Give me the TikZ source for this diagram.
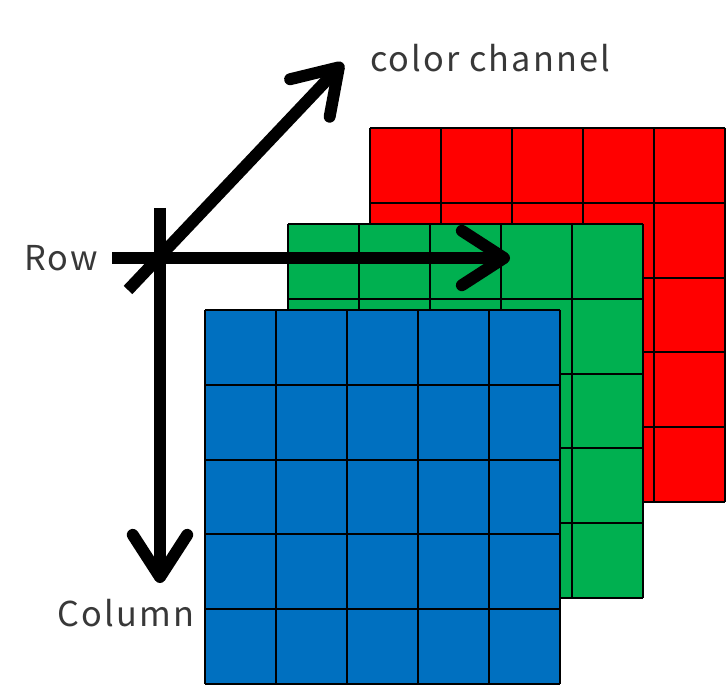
\documentclass[tikz,border=0pt]{standalone}
\usepackage{fontspec}
\setmainfont{Noto Sans CJK JP}
\usetikzlibrary{arrows.meta}
\definecolor{chred}{HTML}{FF0000}
\definecolor{chgreen}{HTML}{00B050}
\definecolor{chblue}{HTML}{0070C0}

\begin{document}
\begin{tikzpicture}[
			x=0.02cm,y=-0.02cm,
			cell/.style={draw=black,line width=1.2pt},
			axis/.style={-{Straight Barb[length=24pt,width=31pt,round]},draw=black,line width=6.8pt},
			lbl/.style={text=black!78,font=\addfontfeature{LetterSpace=6}\fontsize{19.5}{22}\selectfont,inner sep=0pt}]
			\useasboundingbox (0,0) rectangle (728,686);
			% channel layers, back to front
			\foreach \col/\gx/\gy in {chred/370/128,chgreen/288/224,chblue/205/310}{
				\fill[fill=\col] (\gx,\gy) rectangle ++(355,374);
				\foreach \i in {0,...,5}{
					\draw[cell] (\gx+\i*71,\gy) -- ++(0,374);
					\draw[cell] (\gx,\gy+\i*74.8) -- ++(355,0);
				}
			}
			% axes
			\coordinate (rowstart) at (112,258);
			\coordinate (rowend) at (510,258);
			\coordinate (colstart) at (160,208);
			\coordinate (colend) at (160,583);
			\coordinate (chstart) at (128,290);
			\coordinate (chend) at (343,63);
			\draw[axis] (chstart) -- (chend);
			\draw[axis] (colstart) -- (colend);
			\draw[axis] (rowstart) -- (rowend);
			\node[lbl] (rowlbl) at (61,258) {Row};
			\node[lbl] (collbl) at (126,613) {Column};
			\node[lbl] (chlbl) at (490,58) {color channel};
		\end{tikzpicture}
\end{document}
